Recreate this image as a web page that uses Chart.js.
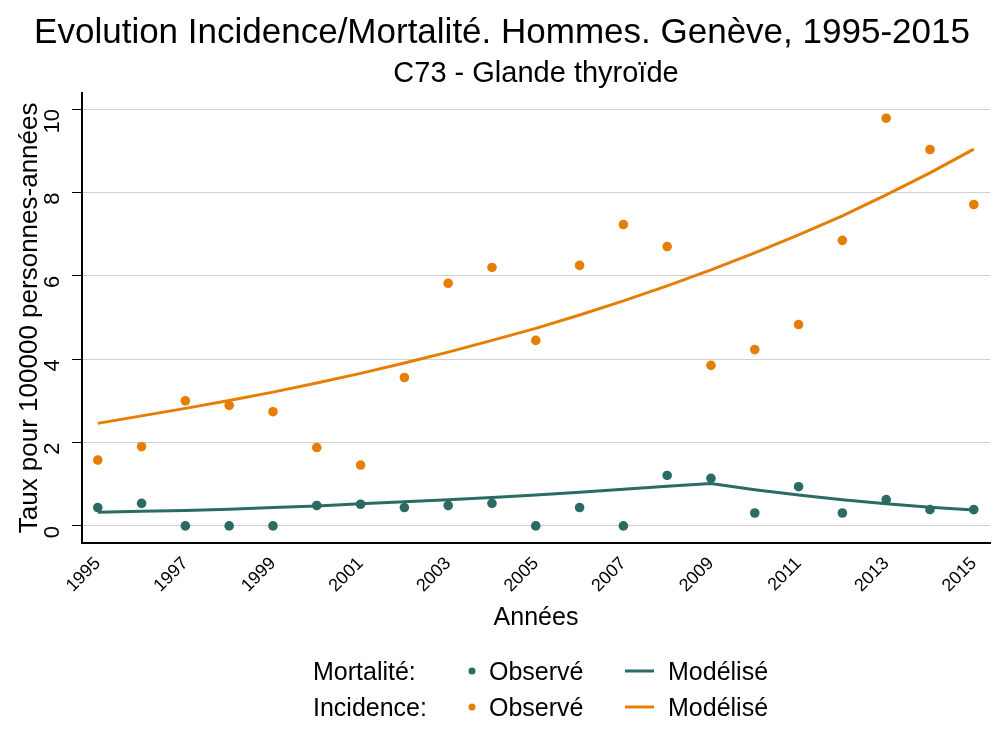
<!DOCTYPE html>
<html>
<head>
<meta charset="utf-8">
<script src="https://cdn.jsdelivr.net/npm/chart.js@4"></script>
<style>
  body { margin: 0; background: #fff; }
  #wrap { width: 1000px; height: 750px; }
</style>
</head>
<body>
<div id="wrap"><canvas id="chart" width="1000" height="750"></canvas></div>
<script>
const TEAL = '#2c6b64';
const ORANGE = '#e67e05';

// années
const years = [1995, 1996, 1997, 1998, 1999, 2000, 2001, 2002, 2003, 2004, 2005,
  2006, 2007, 2008, 2009, 2010, 2011, 2012, 2013, 2014, 2015];

// incidence observée / modélisée
const incObs = [1.58, 1.90, 3.00, 2.89, 2.74, 1.88, 1.46, 3.56, 5.82, 6.20, 4.45,
  6.25, 7.23, 6.70, 3.85, 4.23, 4.83, 6.85, 9.78, 9.03, 7.71];
const incMod = [2.46, 2.64, 2.82, 3.01, 3.21, 3.43, 3.66, 3.91, 4.17, 4.45, 4.74,
  5.06, 5.40, 5.76, 6.14, 6.55, 6.98, 7.44, 7.94, 8.47, 9.04];

// mortalité observée / modélisée
const morObs = [0.44, 0.54, 0, 0, 0, 0.49, 0.52, 0.44, 0.49, 0.54, 0,
  0.44, 0, 1.21, 1.14, 0.31, 0.94, 0.31, 0.63, 0.39, 0.39];
const morMod = [0.33, 0.35, 0.37, 0.40, 0.44, 0.48, 0.53, 0.58, 0.63, 0.68, 0.74,
  0.81, 0.88, 0.95, 1.02, 0.87, 0.74, 0.63, 0.53, 0.45, 0.38];

const yTicks = [0, 2, 4, 6, 8, 10];
const xTicks = [1995, 1997, 1999, 2001, 2003, 2005, 2007, 2009, 2011, 2013, 2015];

const FONT = "'Liberation Sans', Arial, sans-serif";

function pts(vals) {
  return years.map((y, i) => ({ x: y, y: vals[i] }));
}

// legende maison en bas (deux lignes avec libellé de groupe)
const legendPlugin = {
  id: 'legendGroups',
  afterDraw(chart) {
    const ctx = chart.ctx;
    ctx.save();
    ctx.font = '25px ' + FONT;
    ctx.textBaseline = 'middle';
    const rows = [
      { label: 'Mortalité:', color: TEAL, y: 673 },
      { label: 'Incidence:', color: ORANGE, y: 709 }
    ];
    rows.forEach(r => {
      ctx.fillStyle = '#000';
      ctx.textAlign = 'left';
      ctx.fillText(r.label, 313, r.y);
      ctx.fillText('Observé', 489, r.y);
      ctx.fillText('Modélisé', 668, r.y);
      ctx.fillStyle = r.color;
      ctx.beginPath();
      ctx.arc(472, r.y - 2, 3.5, 0, Math.PI * 2);
      ctx.fill();
      ctx.strokeStyle = r.color;
      ctx.lineWidth = 3;
      ctx.beginPath();
      ctx.moveTo(625, r.y - 2);
      ctx.lineTo(654, r.y - 2);
      ctx.stroke();
    });
    ctx.restore();
  }
};

new Chart(document.getElementById('chart'), {
  type: 'scatter',
  data: {
    datasets: [
      { label: 'Mortalité modélisée', data: pts(morMod), type: 'line', showLine: true,
        borderColor: TEAL, borderWidth: 3, pointRadius: 0, tension: 0, fill: false },
      { label: 'Incidence modélisée', data: pts(incMod), type: 'line', showLine: true,
        borderColor: ORANGE, borderWidth: 3, pointRadius: 0, tension: 0, fill: false },
      { label: 'Mortalité observée', data: pts(morObs), backgroundColor: TEAL,
        borderColor: TEAL, pointRadius: 4.8, borderWidth: 0 },
      { label: 'Incidence observée', data: pts(incObs), backgroundColor: ORANGE,
        borderColor: ORANGE, pointRadius: 4.8, borderWidth: 0 }
    ]
  },
  options: {
    responsive: false,
    animation: false,
    devicePixelRatio: 1,
    layout: { padding: { left: 14, right: 10, top: 0, bottom: 117 } },
    plugins: {
      legend: { display: false },
      tooltip: { enabled: false },
      title: {
        display: true,
        text: 'Evolution Incidence/Mortalité. Hommes. Genève, 1995-2015',
        color: '#000',
        font: { family: FONT, size: 35, weight: 'normal' },
        padding: { top: 12, bottom: 0 }
      },
      subtitle: {
        display: true,
        fullSize: false,
        text: 'C73 - Glande thyroïde',
        color: '#000',
        font: { family: FONT, size: 29, weight: 'normal' },
        padding: { top: 3, bottom: 1 }
      }
    },
    scales: {
      x: {
        type: 'linear',
        min: 1994.64,
        max: 2015.37,
        afterBuildTicks: (scale) => { scale.ticks = xTicks.map(v => ({ value: v })); },
        afterFit: (scale) => { scale.height = 90; },
        ticks: {
          color: '#000',
          font: { family: FONT, size: 18 },
          minRotation: 45,
          maxRotation: 45,
          padding: 0,
          callback: (v) => String(v)
        },
        grid: { display: false, drawOnChartArea: false, drawTicks: true, tickLength: 10, color: '#000' },
        border: { display: true, color: '#000', width: 2 },
        title: {
          display: true,
          text: 'Années',
          color: '#000',
          font: { family: FONT, size: 25 },
          padding: { top: 0, bottom: 0 }
        }
      },
      y: {
        min: -0.41,
        max: 10.39,
        afterBuildTicks: (scale) => { scale.ticks = yTicks.map(v => ({ value: v })); },
        afterFit: (scale) => { scale.width = 68; },
        ticks: {
          color: '#000',
          font: { family: FONT, size: 22 },
          minRotation: 90,
          maxRotation: 90,
          padding: 19
        },
        grid: { color: '#d0d0d0', lineWidth: 1, tickColor: '#000', tickLength: 10 },
        border: { display: true, color: '#000', width: 2 },
        title: {
          display: true,
          text: 'Taux pour 100000 personnes-années',
          color: '#000',
          font: { family: FONT, size: 26 },
          padding: { top: 0, bottom: 0 }
        }
      }
    }
  },
  plugins: [legendPlugin]
});
</script>
</body>
</html>
